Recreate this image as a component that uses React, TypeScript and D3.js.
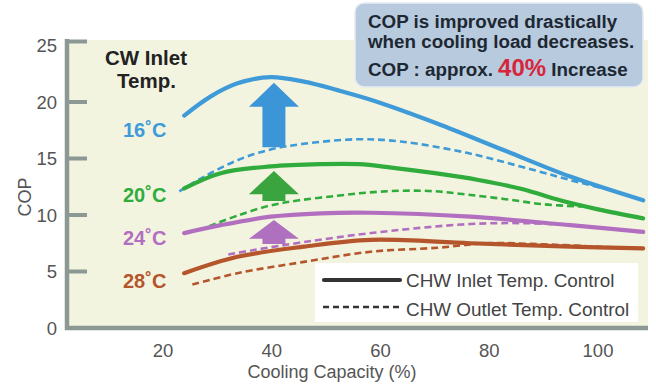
import React from "react";
import * as d3 from "d3";

const W = 656;
const H = 389;

const xTicks = [20, 40, 60, 80, 100];
const yTicks = [0, 5, 10, 15, 20, 25];

// CW inlet 16°C
const blueSolidX = [23.9, 28.8, 33.7, 39.8, 45.9, 52.1, 58.2, 70.4, 82.6, 94.9, 108.3];
const blueSolidY = [18.8, 20.5, 21.65, 22.2, 21.8, 21.05, 20.2, 18.1, 15.75, 13.4, 11.3];
const blueDashX = [23.0, 27.6, 33.7, 39.8, 45.9, 55.7, 63.7, 75.9, 88.0, 97.2, 103.0];
const blueDashY = [12.1, 13.4, 14.85, 15.8, 16.3, 16.7, 16.5, 15.5, 14.0, 12.8, 12.15];
// 20°C
const greenSolidX = [23.9, 30.6, 39.8, 49.0, 56.0, 62.0, 70.0, 78.0, 86.0, 93.0, 100.0, 108.3];
const greenSolidY = [12.35, 13.7, 14.3, 14.5, 14.5, 14.2, 13.7, 13.1, 12.3, 11.3, 10.5, 9.7];
const greenDashX = [28.5, 34.0, 39.8, 45.0, 52.0, 58.0, 64.0, 70.0, 76.0, 83.0, 90.0, 97.0];
const greenDashY = [9.0, 10.0, 10.85, 11.3, 11.7, 12.0, 12.15, 12.1, 11.8, 11.4, 10.95, 10.75];
// 24°C
const purpleSolidX = [23.9, 30.6, 39.8, 49.0, 58.2, 76.5, 94.9, 108.3];
const purpleSolidY = [8.4, 9.1, 9.85, 10.15, 10.2, 9.85, 9.1, 8.5];
const purpleDashX = [32.0, 36.7, 45.9, 58.2, 76.5, 88.8, 100.0, 108.3];
const purpleDashY = [6.5, 6.9, 7.6, 8.4, 9.2, 9.25, 8.9, 8.45];
// 28°C
const brownSolidX = [23.9, 33.7, 45.9, 58.2, 76.5, 94.9, 108.3];
const brownSolidY = [4.85, 6.3, 7.2, 7.8, 7.5, 7.2, 7.05];
const brownDashX = [25.4, 33.7, 45.9, 58.2, 70.4, 79.6, 90.0, 108.3];
const brownDashY = [3.85, 4.85, 5.85, 6.75, 7.1, 7.5, 7.4, 7.0];

const tempLabels = ["16˚C", "20˚C", "24˚C", "28˚C"];
const tempLabelY = [16.9, 11.15, 7.35, 3.54];
const colors = ["#3f9ad8", "#2fac3c", "#b26fc0", "#b5552b"];

// arrows: [x, from, to]
const arrowX = [40.4, 40.4, 40.4];
const arrowFrom = [16.0, 11.25, 7.43];
const arrowTo = [21.7, 13.9, 9.55];
const arrowColors = ["#3b95d6", "#3aa53f", "#b070c0"];

const legendLabels = ["CHW Inlet Temp. Control", "CHW Outlet Temp. Control"];

const FONT = "'Liberation Sans', Arial, Helvetica, sans-serif";

export default function App() {
  const x = d3.scaleLinear().domain([20, 100]).range([163, 598]);
  const y = d3.scaleLinear().domain([0, 25]).range([328, 45.5]);

  const line = d3
    .line<[number, number]>()
    .x((d) => x(d[0]))
    .y((d) => y(d[1]))
    .curve(d3.curveCatmullRom.alpha(0.5));

  const zip = (a: number[], b: number[]) => a.map((v, i) => [v, b[i]] as [number, number]);

  const series = [
    { xs: blueSolidX, ys: blueSolidY, c: colors[0], dash: false },
    { xs: blueDashX, ys: blueDashY, c: colors[0], dash: true },
    { xs: greenSolidX, ys: greenSolidY, c: colors[1], dash: false },
    { xs: greenDashX, ys: greenDashY, c: colors[1], dash: true },
    { xs: purpleSolidX, ys: purpleSolidY, c: colors[2], dash: false },
    { xs: purpleDashX, ys: purpleDashY, c: colors[2], dash: true },
    { xs: brownSolidX, ys: brownSolidY, c: colors[3], dash: false },
    { xs: brownDashX, ys: brownDashY, c: colors[3], dash: true },
  ];

  const arrowPath = (i: number) => {
    const cx = x(arrowX[i]);
    const yb = y(arrowFrom[i]);
    const yt = y(arrowTo[i]);
    const head = Math.min(24, (yb - yt) * 0.78);
    const hw = 25;
    const sw = 11.5;
    return `M${cx},${yt} L${cx + hw},${yt + head} L${cx + sw},${yt + head} L${cx + sw},${yb} L${cx - sw},${yb} L${cx - sw},${yt + head} L${cx - hw},${yt + head} Z`;
  };

  const axisColor = "#8c9893";

  return (
    <svg
      width={W}
      height={H}
      style={{ position: "absolute", left: 0, top: 0, background: "#ffffff" }}
      fontFamily={FONT}
    >
      <rect x={67} y={40} width={581} height={288} fill="#f3f4e0" />

      {/* callout box */}
      <rect x={355} y={3} width={288} height={84} rx={9} fill="#b8cade" stroke="#e6ecf2" strokeWidth={1.5} />
      <g fontWeight="bold" fill="#1d2833" fontSize={18.8}>
        <text x={368} y={28}>COP is improved drastically</text>
        <text x={368} y={48}>when cooling load decreases.</text>
        <text x={368} y={76}>
          COP : approx. <tspan fill="#d7263b" fontSize={24}>40%</tspan> Increase
        </text>
      </g>

      {/* arrows */}
      {arrowColors.map((c, i) => (
        <path key={i} d={arrowPath(i)} fill={c} />
      ))}

      {/* lines */}
      {series.map((s, i) => (
        <path
          key={i}
          d={line(zip(s.xs, s.ys)) || ""}
          fill="none"
          stroke={s.c}
          strokeWidth={s.dash ? 2.6 : 4.2}
          strokeDasharray={s.dash ? "7,4" : undefined}
          strokeLinecap={s.dash ? "butt" : "round"}
        />
      ))}

      {/* legend */}
      <rect x={315} y={263} width={323} height={59} fill="#ffffff" />
      <line x1={324} x2={400} y1={280} y2={280} stroke="#333" strokeWidth={4.2} strokeLinecap="round" />
      <line x1={323} x2={401} y1={307} y2={307} stroke="#333" strokeWidth={2.6} strokeDasharray="6,4" />
      <g fill="#444" fontSize={18.9}>
        <text x={406} y={287}>{legendLabels[0]}</text>
        <text x={406} y={316}>{legendLabels[1]}</text>
      </g>

      {/* axes */}
      <line x1={67} x2={67} y1={39} y2={330} stroke={axisColor} strokeWidth={4.5} />
      <line x1={65} x2={648} y1={328} y2={328} stroke={axisColor} strokeWidth={4.5} />
      {yTicks.slice(1).map((t) => (
        <line key={t} x1={67} x2={87} y1={t === 25 ? 41.5 : y(t)} y2={t === 25 ? 41.5 : y(t)} stroke={axisColor} strokeWidth={4} />
      ))}
      <g fill="#555" fontSize={18.5} textAnchor="end">
        {yTicks.map((t) => (
          <text key={t} x={57} y={y(t) + 6.5}>
            {t}
          </text>
        ))}
      </g>
      <g fill="#555" fontSize={18.5} textAnchor="middle">
        {xTicks.map((t) => (
          <text key={t} x={x(t)} y={357}>
            {t}
          </text>
        ))}
      </g>
      <text x={332} y={378} fill="#555" fontSize={18} textAnchor="middle">
        Cooling Capacity (%)
      </text>
      <text transform="translate(31,197) rotate(-90)" fill="#555" fontSize={18} textAnchor="middle">
        COP
      </text>

      {/* labels */}
      <g fontWeight="bold" fontSize={20.5} fill="#222">
        <text x={105} y={65}>CW Inlet</text>
        <text x={117} y={88}>Temp.</text>
      </g>
      <g fontWeight="bold" fontSize={20}>
        {tempLabels.map((l, i) => (
          <text key={l} x={123} y={y(tempLabelY[i])} fill={colors[i]}>
            {l}
          </text>
        ))}
      </g>
    </svg>
  );
}
